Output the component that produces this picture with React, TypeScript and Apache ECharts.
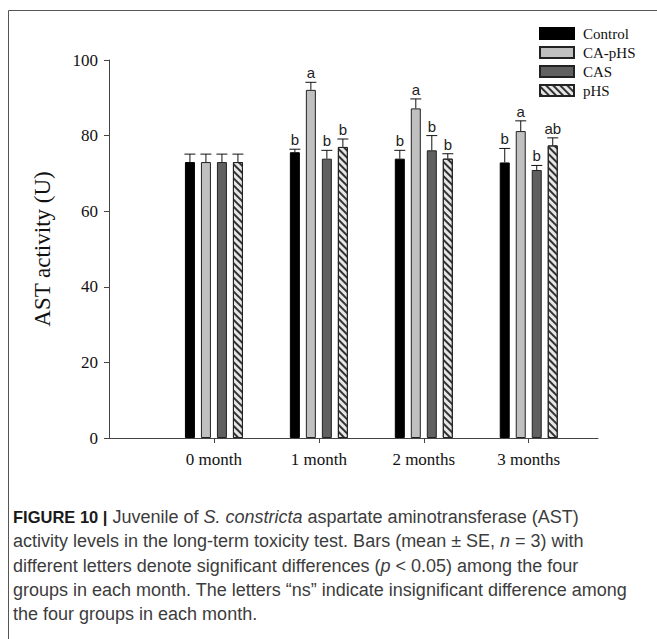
import React, { useEffect, useRef } from "react";
import * as echarts from "echarts";

const categories = ["0 month", "1 month", "2 months", "3 months"];
const groupNames = ["Control", "CA-pHS", "CAS", "pHS"];

const controlMean = [73.0, 75.6, 73.9, 72.9];
const controlSE = [2.1, 0.8, 2.2, 3.7];
const caphsMean = [73.0, 92.1, 87.2, 81.2];
const caphsSE = [2.1, 2.0, 2.5, 2.7];
const casMean = [73.0, 73.9, 76.1, 70.9];
const casSE = [2.1, 2.2, 3.9, 1.2];
const phsMean = [73.0, 77.0, 73.9, 77.4];
const phsSE = [2.1, 2.1, 1.3, 2.0];

const controlLetters = ["", "b", "b", "b"];
const caphsLetters = ["", "a", "a", "a"];
const casLetters = ["", "b", "b", "b"];
const phsLetters = ["", "b", "b", "ab"];

const yTickValues = [0, 20, 40, 60, 80, 100];

const captionLines = [
  "{b|FIGURE 10 |} Juvenile of {i|S. constricta} aspartate aminotransferase (AST)",
  "activity levels in the long-term toxicity test. Bars (mean ± SE, {i|n} = 3) with",
  "different letters denote significant differences ({i|p} < 0.05) among the four",
  "groups in each month. The letters “ns” indicate insignificant difference among",
  "the four groups in each month.",
];

const SERIF = "'Liberation Serif', 'Times New Roman', serif";
const SANS = "'Liberation Sans', Arial, sans-serif";
const CAP_SIZE = 18;

export default function App() {
  const ref = useRef<HTMLDivElement>(null);

  useEffect(() => {
    if (!ref.current) return;
    const chart = echarts.init(ref.current, undefined, { renderer: "svg" });

    const means = [controlMean, caphsMean, casMean, phsMean];
    const ses = [controlSE, caphsSE, casSE, phsSE];
    const letters = [controlLetters, caphsLetters, casLetters, phsLetters];
    const styles: any[] = [
      { color: "#000000", borderColor: "#000", borderWidth: 1 },
      { color: "#c0c0c0", borderColor: "#222", borderWidth: 1 },
      { color: "#606060", borderColor: "#222", borderWidth: 1 },
      {
        color: "#e6e6e6",
        borderColor: "#222",
        borderWidth: 1,
        decal: {
          symbol: "rect",
          symbolSize: 1,
          color: "#333333",
          dashArrayX: [1, 0],
          dashArrayY: [1.5, 2.3],
          rotation: Math.PI / 4,
        },
      },
    ];
    const offsets = [-24, -8, 8, 24];

    const barSeries = groupNames.map((name, s) => ({
      type: "bar",
      name,
      data: means[s].map((v, i) => [i, v]),
      barWidth: 10,
      barGap: "60%",
      itemStyle: styles[s],
      emphasis: { disabled: true },
    }));

    const errSeries = groupNames.map((name, s) => ({
      type: "custom",
      name: name + " SE",
      data: means[s].map((v, i) => [i, v, ses[s][i]]),
      encode: { x: 0, y: 1 },
      z: 5,
      renderItem: (params: any, api: any) => {
        const x = api.value(0);
        const m = api.value(1);
        const e = api.value(2);
        const base = api.coord([x, m]);
        const top = api.coord([x, m + e]);
        const cx = base[0] + offsets[s];
        const letter = letters[s][params.dataIndex];
        return {
          type: "group",
          children: [
            {
              type: "line",
              shape: { x1: cx, y1: base[1], x2: cx, y2: top[1] },
              style: { stroke: "#111", lineWidth: 1 },
            },
            {
              type: "line",
              shape: { x1: cx - 5.5, y1: top[1], x2: cx + 5.5, y2: top[1] },
              style: { stroke: "#111", lineWidth: 1 },
            },
            {
              type: "text",
              x: cx,
              y: top[1] - 2,
              style: {
                text: letter,
                fill: "#222",
                fontFamily: SANS,
                fontSize: 15,
                align: "center",
                verticalAlign: "bottom",
              },
            },
          ],
        };
      },
    }));

    const captionGraphics = captionLines.map((t, i) => ({
      type: "text",
      x: 13,
      y: 517 + i * 24.3,
      style: {
        text: t,
        fill: "#3c3c3c",
        fontFamily: SANS,
        fontSize: CAP_SIZE,
        verticalAlign: "middle",
        rich: {
          b: { fontWeight: "bold", fill: "#1a1a1a", fontFamily: SANS, fontSize: 16.5 },
          i: { fontStyle: "italic", fill: "#3c3c3c", fontFamily: SANS, fontSize: CAP_SIZE },
        },
      },
    }));

    chart.setOption({
      animation: false,
      backgroundColor: "#ffffff",
      grid: { left: 109, right: 59, top: 60, bottom: 201, containLabel: false },
      legend: {
        data: groupNames,
        orient: "vertical",
        left: 539,
        top: 26,
        padding: 0,
        itemWidth: 34,
        itemHeight: 11,
        itemGap: 4,
        icon: "rect",
        selectedMode: false,
        textStyle: {
          fontFamily: SERIF,
          fontSize: 15,
          color: "#111",
          padding: [0, 0, 0, 4],
        },
      },
      xAxis: {
        type: "value",
        min: -1,
        max: 3.66,
        interval: 1,
        splitLine: { show: false },
        axisLine: { show: true, onZero: false, lineStyle: { color: "#444", width: 1 } },
        axisTick: {
          show: true,
          length: 5,
          customValues: [0, 1, 2, 3],
          lineStyle: { color: "#444" },
        },
        axisLabel: {
          customValues: [0, 1, 2, 3],
          formatter: (v: number) => categories[Math.round(v)] ?? "",
          fontFamily: SERIF,
          fontSize: 17,
          color: "#111",
          margin: 13,
        },
      },
      yAxis: {
        type: "value",
        min: 0,
        max: 100,
        interval: 20,
        name: "AST activity (U)",
        nameLocation: "middle",
        nameGap: 55,
        nameTextStyle: { fontFamily: SERIF, fontSize: 23, color: "#111" },
        splitLine: { show: false },
        axisLine: { show: true, onZero: false, lineStyle: { color: "#444", width: 1 } },
        axisTick: { show: true, length: 5, lineStyle: { color: "#444" } },
        axisLabel: {
          customValues: yTickValues,
          fontFamily: SERIF,
          fontSize: 17,
          color: "#111",
          margin: 11,
        },
      },
      graphic: [
        {
          type: "line",
          shape: { x1: 8.5, y1: 10.5, x2: 657, y2: 10.5 },
          style: { stroke: "#555", lineWidth: 1 },
        },
        {
          type: "line",
          shape: { x1: 8.5, y1: 10.5, x2: 8.5, y2: 639 },
          style: { stroke: "#555", lineWidth: 1 },
        },
        ...captionGraphics,
      ],
      series: [...barSeries, ...errSeries],
    });

    return () => chart.dispose();
  }, []);

  return (
    <div
      ref={ref}
      style={{ position: "absolute", left: 0, top: 0, width: 657, height: 639 }}
    />
  );
}
